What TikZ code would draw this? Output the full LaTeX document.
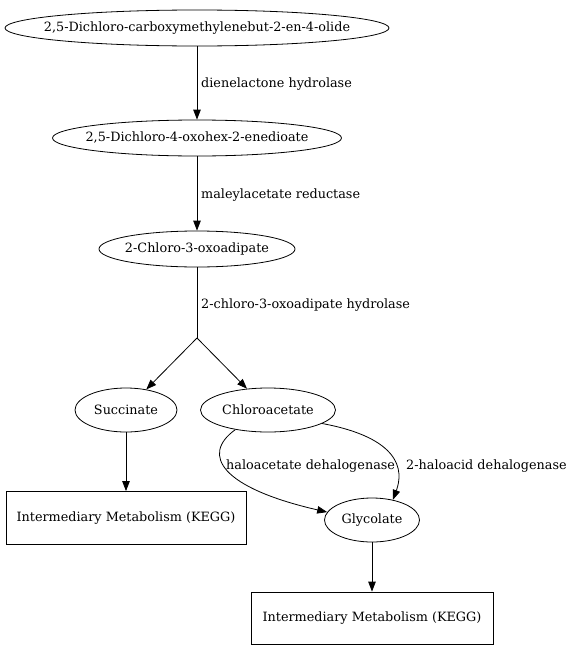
\documentclass[tikz,border=0pt]{standalone}
\usepackage{fontspec}
\setmainfont{DejaVu Serif}
\usetikzlibrary{arrows.meta,shapes.geometric}
\newcommand{\ctext}[1]{\makebox[0pt]{#1}}

\begin{document}
\begin{tikzpicture}[x=1pt,y=-1pt,
    every node/.style={font=\fontsize{12.8}{15}\selectfont,inner sep=0pt},
    compound/.style={ellipse,draw,thick,minimum height=#1},
    compound/.default=36,
    keggbox/.style={rectangle,draw,thick,minimum width=240,minimum height=53},
    enzyme/.style={anchor=west},
    flow/.style={thick,-{Triangle[length=10pt,width=7.5pt]}}]
  \useasboundingbox (0,0) rectangle (574,648);
  % compounds
  \node[compound,minimum width=384] (dcmb) at (197,28) {\ctext{2,5-Dichloro-carboxymethylenebut-2-en-4-olide}};
  \node[compound,minimum width=289] (dcoh) at (197,138) {\ctext{2,5-Dichloro-4-oxohex-2-enedioate}};
  \node[compound,minimum width=196] (coad) at (197,249) {\ctext{2-Chloro-3-oxoadipate}};
  \coordinate (split) at (197,338);
  \node[compound=44,minimum width=102] (succ) at (126,410) {\ctext{Succinate}};
  \node[compound=44,minimum width=135] (chac) at (268,410) {\ctext{Chloroacetate}};
  \node[compound=44,minimum width=95] (glyc) at (372,520) {\ctext{Glycolate}};
  \node[keggbox] (kegga) at (126,518) {Intermediary Metabolism (KEGG)};
  \node[keggbox,minimum width=242,minimum height=52] (keggb) at (372,618) {Intermediary Metabolism (KEGG)};

  % reactions
  \draw[flow] (dcmb) -- (dcoh);
  \node[enzyme] (e1) at (201,84) {dienelactone hydrolase};
  \draw[flow] (dcoh) -- (coad);
  \node[enzyme] (e2) at (201,195) {maleylacetate reductase};
  \draw[thick] (coad) -- (split);
  \node[enzyme] (e3) at (201,305) {2-chloro-3-oxoadipate hydrolase};
  \draw[flow] (split) -- (succ);
  \draw[flow] (split) -- (chac);
  \draw[flow] (succ) -- (kegga);
  \draw[flow] (chac.211) .. controls (200,455) and (222,488) .. (glyc.170);
  \node[enzyme] (e4) at (226,466) {haloacetate dehalogenase};
  \draw[flow] (chac.-14) .. controls (400,438) and (404,470) .. (glyc.44);
  \node[enzyme] (e5) at (406,466) {2-haloacid dehalogenase};
  \draw[flow] (glyc) -- (keggb);
\end{tikzpicture}
\end{document}
